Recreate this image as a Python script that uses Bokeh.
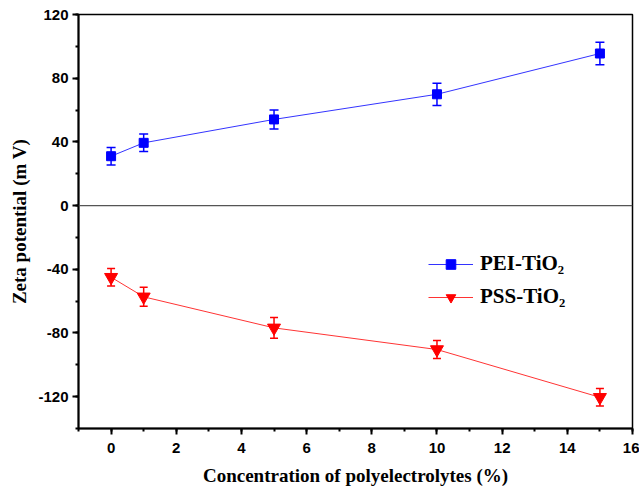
from bokeh.plotting import figure
from bokeh.models import (ColumnDataSource, Whisker, TeeHead, Span, Legend, LegendItem,
                          SingleIntervalTicker, Range1d, PrintfTickFormatter)
from bokeh.embed import file_html
from bokeh.resources import INLINE

# Data
conc = [0, 1, 5, 10, 15]
pei_zeta = [31, 39.4, 54.1, 69.9, 95.5]
pei_err = [5.5, 5.5, 6, 7, 7]
pss_zeta = [-45, -57.3, -76.8, -90.4, -120.4]
pss_err = [5.5, 6, 6.5, 5.6, 5.5]
pei_label = "PEI-TiO\u2082"
pss_label = "PSS-TiO\u2082"
x_title = "Concentration of polyelectrolytes (%)"
y_title = "Zeta potential (m V)"

blue = "#0000ff"
red = "#ff0000"

p = figure(width=639, height=490, output_backend="svg", toolbar_location=None,
           x_range=Range1d(-1, 16), y_range=Range1d(-140, 120),
           min_border_left=78, min_border_top=14, min_border_right=7, min_border_bottom=62)
p.grid.visible = False
p.outline_line_color = "black"
p.outline_line_width = 1.5
p.background_fill_color = "white"
p.border_fill_color = "white"

p.xaxis.ticker = SingleIntervalTicker(interval=2, num_minor_ticks=2)
p.yaxis.ticker = SingleIntervalTicker(interval=40, num_minor_ticks=2)
p.xaxis.formatter = PrintfTickFormatter(format="%d")
p.yaxis.formatter = PrintfTickFormatter(format="%d")
for ax in (p.xaxis[0], p.yaxis[0]):
    ax.axis_line_width = 2
    ax.axis_line_color = "black"
    ax.major_tick_in = 0
    ax.major_tick_out = 6
    ax.minor_tick_in = 0
    ax.minor_tick_out = 3
    ax.major_tick_line_width = 2
    ax.minor_tick_line_width = 2
    ax.major_label_text_font = "Liberation Sans"
    ax.major_label_text_font_style = "bold"
    ax.major_label_text_font_size = "15px"
    ax.major_label_text_color = "black"
    ax.axis_label_text_font = "Liberation Serif"
    ax.axis_label_text_font_style = "bold"
    ax.axis_label_text_font_size = "19px"
    ax.axis_label_text_color = "black"

p.xaxis.axis_label = x_title
p.yaxis.axis_label = y_title
p.xaxis.major_label_standoff = 8
p.xaxis.axis_label_standoff = 9
p.yaxis.major_label_standoff = 4
p.yaxis.axis_label_standoff = 5

p.add_layout(Span(location=0, dimension="width", line_color="#555555", line_width=1.2))

src_pei = ColumnDataSource(dict(x=conc, y=pei_zeta,
                                lo=[v - e for v, e in zip(pei_zeta, pei_err)],
                                hi=[v + e for v, e in zip(pei_zeta, pei_err)]))
src_pss = ColumnDataSource(dict(x=conc, y=pss_zeta,
                                lo=[v - e for v, e in zip(pss_zeta, pss_err)],
                                hi=[v + e for v, e in zip(pss_zeta, pss_err)]))

for src, col, cap in ((src_pei, blue, 9), (src_pss, red, 8)):
    w = Whisker(source=src, base="x", lower="lo", upper="hi", line_color=col, line_width=1.5,
                upper_head=TeeHead(size=cap, line_color=col, line_width=1.5),
                lower_head=TeeHead(size=cap, line_color=col, line_width=1.5))
    p.add_layout(w)

l1 = p.line("x", "y", source=src_pei, line_color=blue, line_width=1, line_alpha=0.8)
m1 = p.scatter("x", "y", source=src_pei, marker="square", size=9, fill_color=blue, line_color=blue)
l2 = p.line("x", "y", source=src_pss, line_color=red, line_width=1, line_alpha=0.8)
m2 = p.scatter("x", "y", source=src_pss, marker="inverted_triangle", size=13, fill_color=red, line_color=red)

legend = Legend(items=[LegendItem(label=pei_label, renderers=[l1, m1]),
                       LegendItem(label=pss_label, renderers=[l2, m2])],
                location=(340, 109), orientation="vertical",
                background_fill_alpha=0, border_line_alpha=0,
                glyph_width=45, glyph_height=24, label_standoff=7, spacing=8,
                label_text_font="Liberation Serif", label_text_font_style="bold",
                label_text_font_size="21px", label_text_color="black")
p.add_layout(legend)

open("out.html", "w").write(file_html(p, INLINE))
